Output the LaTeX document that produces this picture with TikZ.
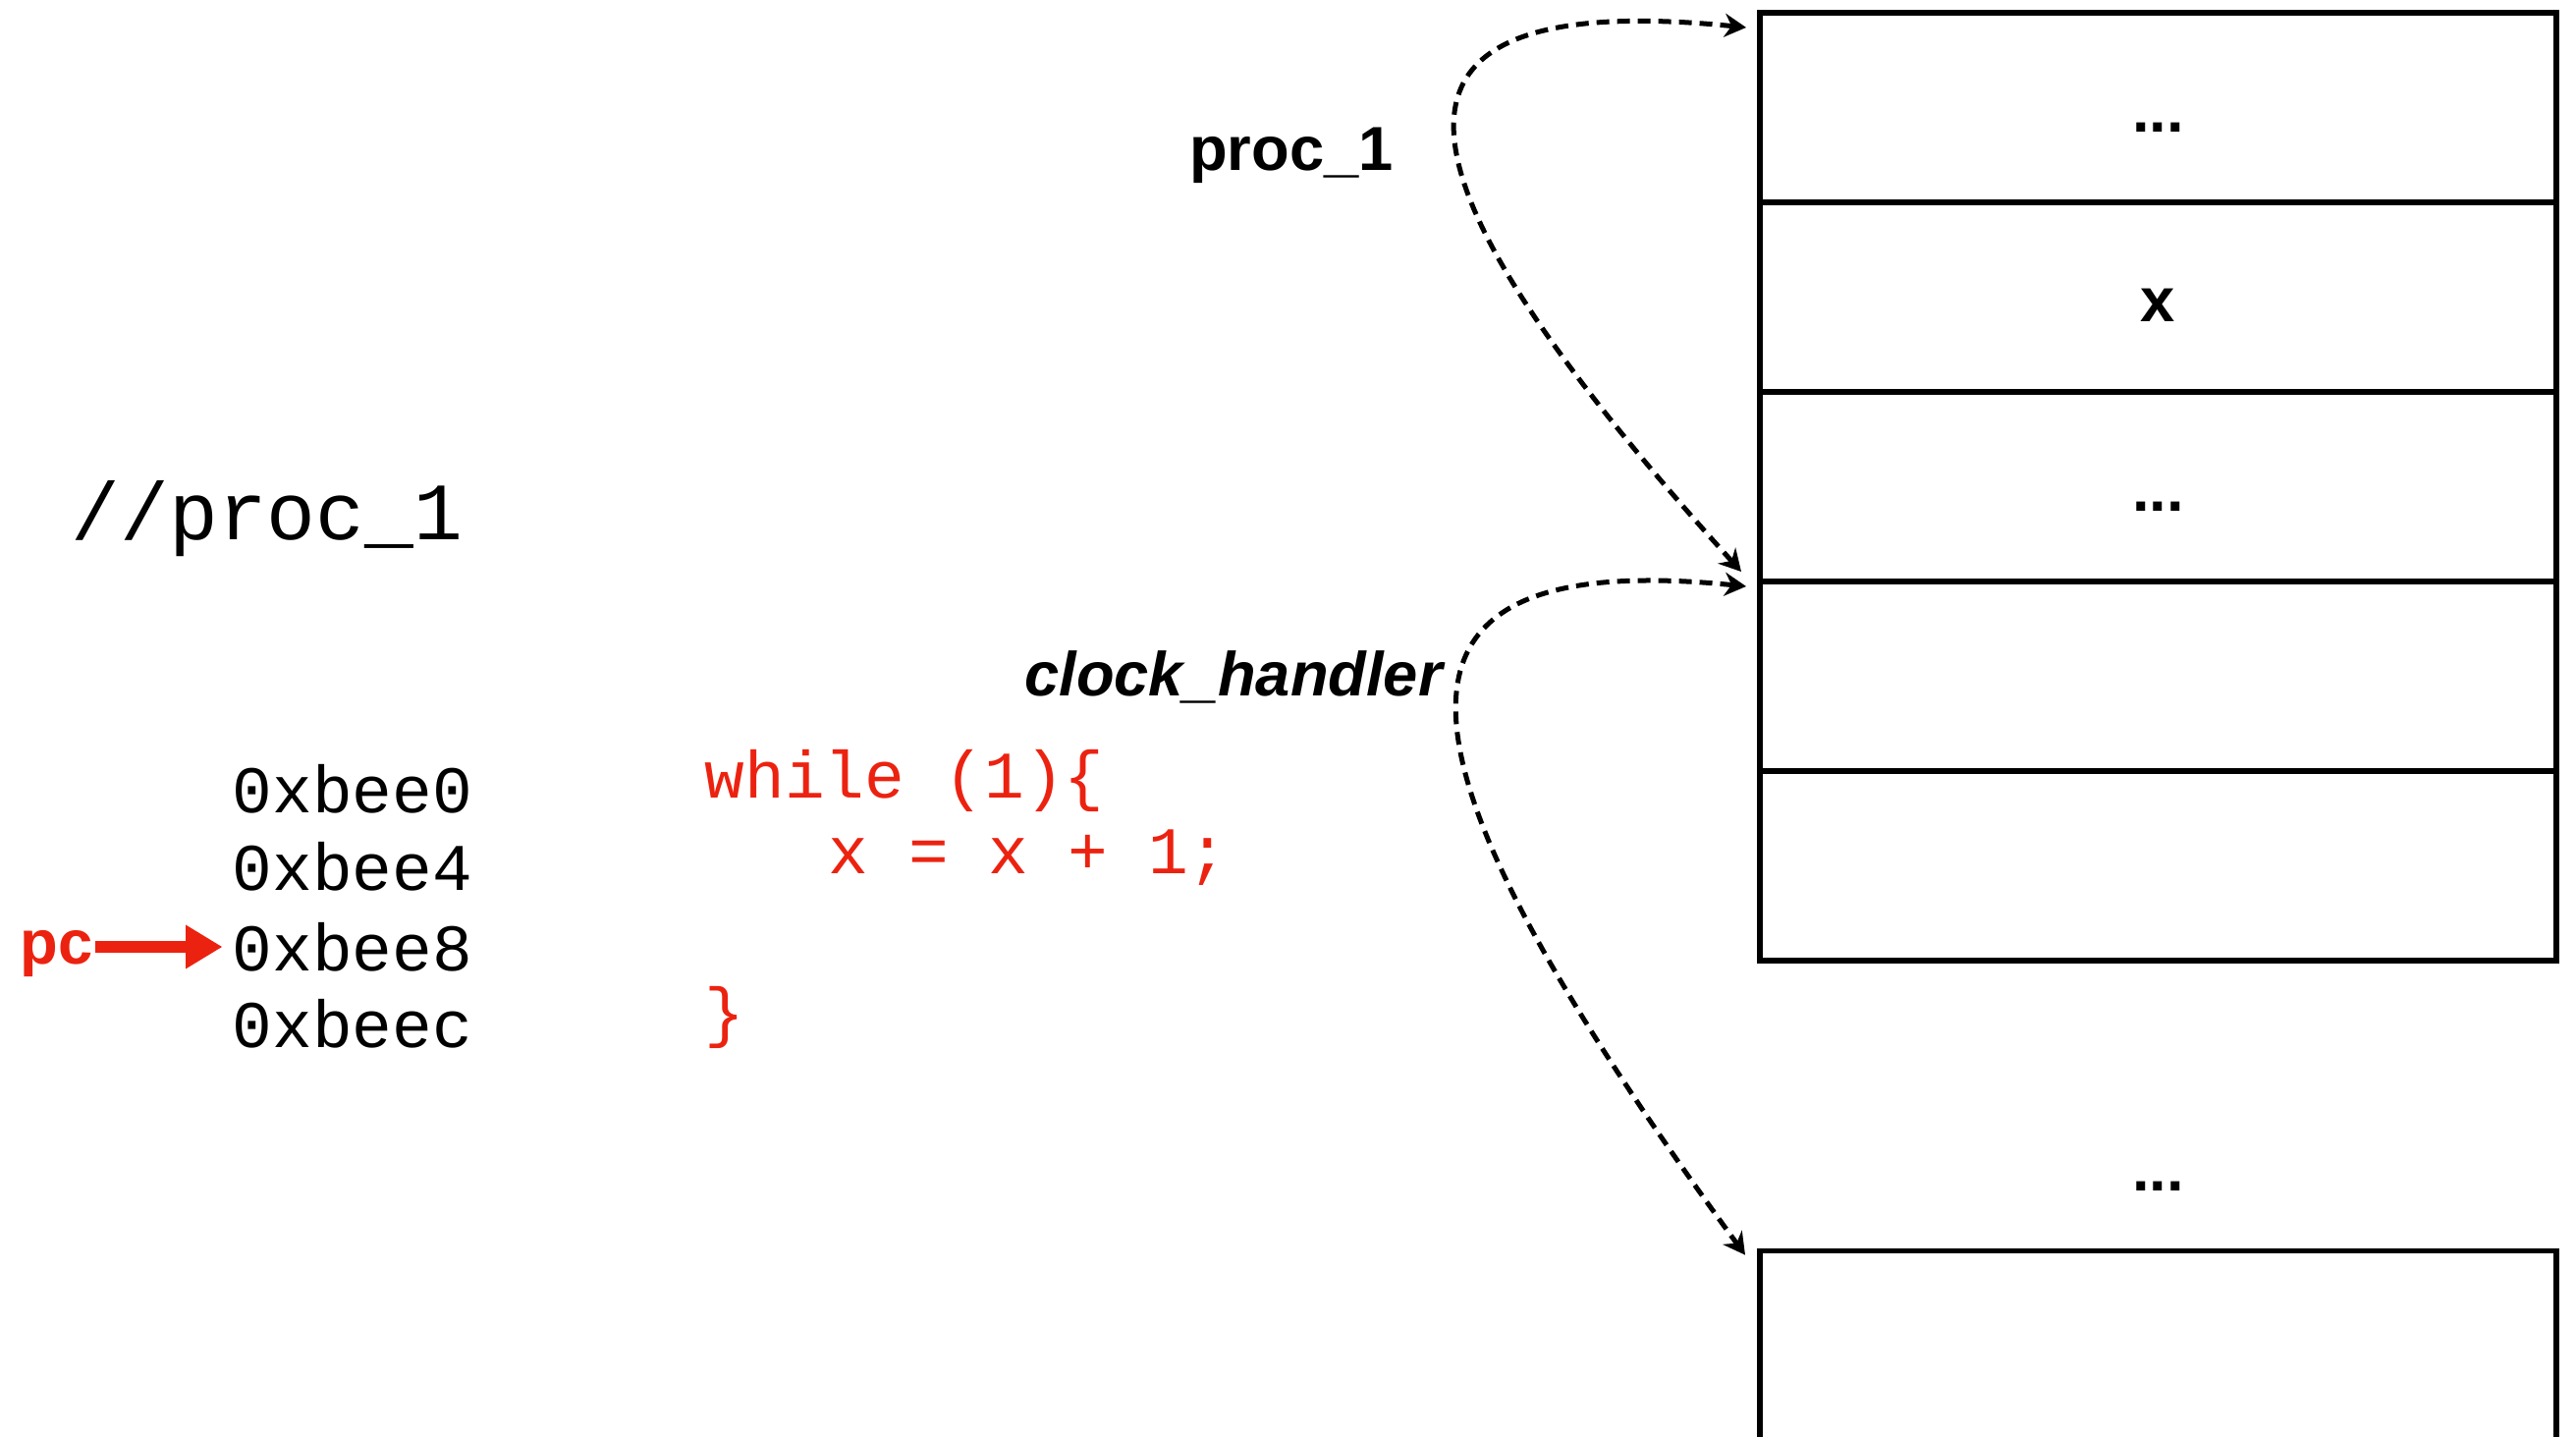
\documentclass[tikz,border=0pt]{standalone}
\usepackage{fontspec}
\setmainfont{Liberation Sans}
\setmonofont{Liberation Mono}
\usetikzlibrary{positioning,arrows.meta}
\definecolor{codered}{RGB}{236,34,16}
\tikzset{
	cell/.style = {
		draw = black,
		line width = 1.6pt,
		rectangle,
		outer sep = 0pt,
		minimum width = 81.1mm,
		minimum height = 19.3mm,
		text height = 1.65em,
		text depth = 0.2em,
		font = \fontsize{18}{22}\selectfont\bfseries
	},
	tag/.style = {
		inner sep = 0pt,
		font = \fontsize{18}{22}\selectfont\bfseries
	},
	addr/.style = {
		inner sep = 0pt,
		anchor = west,
		font = \fontsize{19.3}{23}\selectfont\ttfamily
	},
	code/.style = {addr, text = codered},
	link/.style = {
		{Stealth[length=2.2mm,width=2.4mm]}-{Stealth[length=2.2mm,width=2.4mm]},
		line width = 0.5mm,
		dash pattern = on 1.3mm off 0.8mm
	},
	pcarrow/.style = {
		-{Triangle[length=3.7mm,width=4.5mm,line width=0pt]},
		draw = codered,
		line width = 1.2mm
	}
}

\begin{document}
\begin{tikzpicture}[x=0.1mm, y=0.1mm]
    \clip (0,0) rectangle (2623,-1463) ;

    % stack
    \node [cell, anchor=north west] (c1) at (1792,-13) {...} ;
    \node [cell, below=0pt of c1] (c2) {x} ;
    \node [cell, below=0pt of c2] (c3) {...} ;
    \node [cell, below=0pt of c3] (c4) {} ;
    \node [cell, below=0pt of c4] (c5) {} ;
    \node [tag, text height=1.6em, text depth=0.2em, below=17.8mm of c5] (gap) {...} ;
    \node [cell, minimum height=25mm, below=5.3mm of gap] (c6) {} ;

    \node [tag, anchor=base] (proc) at (1315,-174) {proc\_1} ;
    \node [tag, font=\fontsize{18}{22}\selectfont\bfseries\itshape, anchor=base] (handler) at (1256,-709) {clock\_handler} ;

    % code
    \node [addr, anchor=base west, font=\fontsize{23.6}{28}\selectfont\ttfamily] (title) at (72,-550) {//proc\_1} ;
    \node [addr] (a0) at (236,-803) {0xbee0} ;
    \node [addr] (a1) at (236,-882) {0xbee4} ;
    \node [addr] (a2) at (236,-964) {0xbee8} ;
    \node [addr] (a3) at (236,-1042) {0xbeec} ;
    \node [code] (l1) at (717,-795) {while (1)\{} ;
    \node [code] (l2) at (843,-873) {x = x + 1;} ;
    \node [code] (l3) at (717,-1036) {\}} ;

    \node [tag, text=codered, text height=1.2em, text depth=0.2em, left=14.1mm of a2] (pc) {pc} ;
    \draw [pcarrow, shorten <=0.2mm, shorten >=1mm] (pc) -- (a2) ;

    \draw [link] ([shift={(-1.4mm,-1.5mm)}]c1.north west) .. controls +(-400,40) and +(-380,420) .. ([shift={(-1.9mm,1mm)}]c4.north west) ;
    \draw [link] ([shift={(-1.4mm,-0.5mm)}]c4.north west) .. controls +(-400,40) and +(-380,520) .. ([shift={(-1.5mm,-0.4mm)}]c6.north west) ;
\end{tikzpicture}
\end{document}
